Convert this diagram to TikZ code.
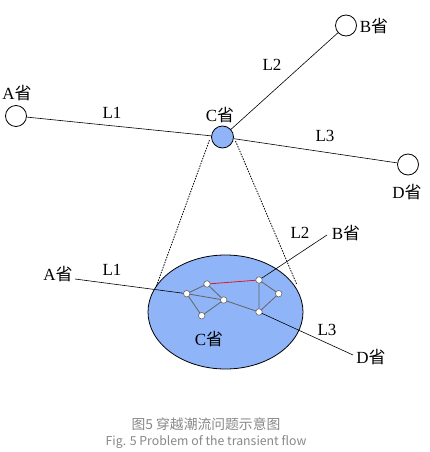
\documentclass[tikz,border=0pt]{standalone}
\usepackage{fontspec}
\setmainfont{Liberation Serif}
\newfontfamily\cjk{Noto Sans CJK SC}
\usetikzlibrary{calc,shapes.geometric}
\definecolor{cblue}{RGB}{143,181,248}
\definecolor{capgray}{RGB}{135,135,135}
\definecolor{edgegray}{RGB}{100,100,100}
\definecolor{redline}{RGB}{225,20,40}
\begin{document}
\begin{tikzpicture}[x=1pt,y=-1pt,
  prov/.style={circle,draw=black,line width=0.8pt,fill=white,minimum size=21pt,inner sep=0pt},
  provc/.style={prov,fill=cblue,minimum size=22pt},
  lab/.style={font=\fontsize{17}{17}\selectfont,inner sep=0pt},
  sub/.style={circle,draw=edgegray,line width=0.6pt,fill=white,minimum size=6.5pt,inner sep=0pt},
  wire/.style={black,line width=0.6pt},
  iwire/.style={edgegray,line width=0.8pt},
  captext/.style={text=capgray,inner sep=0pt}]
\useasboundingbox (0,0) rectangle (429,452);
% top level
\node[prov] (A) at (16,116) {};
\node[prov] (B) at (346,25.5) {};
\node[provc] (C) at (222.5,137) {};
\node[prov] (D) at (408,164.5) {};
\draw[wire] (A) -- (C);
\draw[wire] (C) -- (B);
\draw[wire] (C) -- (D);
\node[lab] (tA) at (17,93) {A{\cjk 省}};
\node[lab] (tB) at (374,26) {B{\cjk 省}};
\node[lab] (tC) at (220,115) {C{\cjk 省}};
\node[lab] (tD) at (407,192) {D{\cjk 省}};
\node[lab] (tL1) at (112,113) {L1};
\node[lab] (tL2) at (272,65) {L2};
\node[lab] (tL3) at (325,136) {L3};
% ellipse
\node[ellipse,draw=black,line width=0.8pt,fill=cblue,minimum width=155pt,minimum height=114pt,inner sep=0pt] (E) at (225.5,312) {};
% dashed projection
\coordinate (dl1) at (209.5,140);
\coordinate (dl2) at (156,287);
\coordinate (dr1) at (235.5,141);
\coordinate (dr2) at (297,285);
\draw[line width=0.8pt,dash pattern=on 1.5pt off 1.2pt] (dl1) -- (dl2);
\draw[line width=0.8pt,dash pattern=on 1.5pt off 1.2pt] (dr1) -- (dr2);
% inner network
\coordinate (n1) at (186.7,293.7);
\coordinate (n2) at (207,284);
\coordinate (n3) at (223.7,300);
\coordinate (n4) at (201.7,315.7);
\coordinate (n5) at (259,280);
\coordinate (n6) at (278.7,293.7);
\coordinate (n7) at (259,312);
\coordinate (Aend) at (75,279);
\coordinate (Bend) at (327,235);
\coordinate (Dend) at (353,355);
\draw[wire] (Aend) -- (n1);
\draw[wire] (n5) -- (Bend);
\draw[wire] (n7) -- (Dend);
\draw[iwire] (n1) -- (n2) -- (n3) -- (n1) -- (n4) -- (n3) -- (n7);
\draw[iwire] (n5) -- (n7) -- (n6) -- (n5);
\draw[redline,line width=0.8pt] (n2) -- (n5);
\foreach \n in {n1,n2,n3,n4,n5,n6,n7} \node[sub] (s\n) at (\n) {};
\node[lab] (bA) at (58,274) {A{\cjk 省}};
\node[lab] (bL1) at (112,270) {L1};
\node[lab] (bB) at (346,233) {B{\cjk 省}};
\node[lab] (bL2) at (300,233) {L2};
\node[lab] (bD) at (371,357) {D{\cjk 省}};
\node[lab] (bL3) at (327,330) {L3};
\node[lab] (bC) at (209,339) {C{\cjk 省}};
% caption
\node[captext,font=\cjk\fontsize{13.8}{14}\selectfont] (cap1) at (206,424) {图5 穿越潮流问题示意图};
\node[captext,font=\cjk\fontsize{12.3}{12}\selectfont] (cap2) at (206,442) {Fig. 5 Problem of the transient flow};
\end{tikzpicture}
\end{document}
